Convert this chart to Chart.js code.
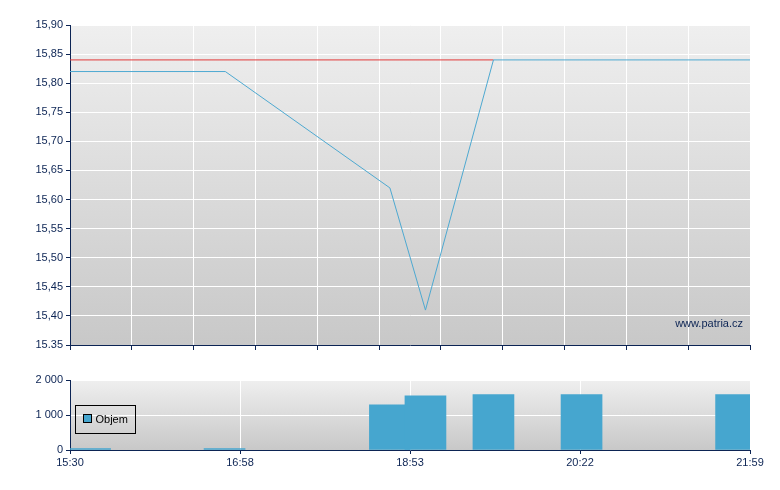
<!DOCTYPE html>
<html>
<head>
<meta charset="utf-8">
<script src="https://cdn.jsdelivr.net/npm/chart.js@4.4.1/dist/chart.umd.min.js"></script>
<style>
  body { margin: 0; background: #fff; }
  #wrap { position: relative; width: 780px; height: 490px; }
  canvas { position: absolute; left: 0; }
</style>
</head>
<body>
<div id="wrap">
  <canvas id="cena" width="780" height="360" style="top:0"></canvas>
  <canvas id="objem" width="780" height="130" style="top:360px"></canvas>
</div>
<script>
// popisky casove osy (pozice 0, 11, 22, 33, 44)
const casy = ['15:30', '16:58', '18:53', '20:22', '21:59'];

// kurz
const kurzX = [0, 10.05, 20.7, 23, 27.4, 44];
const kurzY = [15.82, 15.82, 15.62, 15.41, 15.84, 15.84];

// predchozi zaviraci cena (cervena cara, dal ji prekryva kurz)
const zavX = [0, 27.4];
const zavY = [15.84, 15.84];

// objem obchodu
const objemX = [1.3, 10, 20.7, 23, 27.4, 33.1, 43.1];
const objemY = [40, 40, 1290, 1545, 1580, 1580, 1580];

const kurzTicks = ['15.35', '15,40', '15,45', '15,50', '15,55', '15,60', '15,65', '15,70', '15,75', '15,80', '15,85', '15,90'];
const objemTicks = ['0', '1 000', '2 000'];

const NAVY = '#0c2454';
const FONT = { family: '"Liberation Sans", Arial, sans-serif', size: 11 };

const pozadi = {
  id: 'pozadi',
  beforeDraw(chart) {
    const { ctx, chartArea: a } = chart;
    const g = ctx.createLinearGradient(0, a.top, 0, a.bottom);
    g.addColorStop(0, '#efefef');
    g.addColorStop(1, '#c8c8c8');
    ctx.save();
    ctx.fillStyle = g;
    ctx.fillRect(a.left, a.top, a.right - a.left, a.bottom - a.top);
    ctx.restore();
  }
};

const vodoznak = {
  id: 'vodoznak',
  afterDraw(chart) {
    const { ctx, chartArea: a } = chart;
    ctx.save();
    ctx.font = '11px "Liberation Sans", Arial, sans-serif';
    ctx.fillStyle = NAVY;
    ctx.textAlign = 'right';
    ctx.textBaseline = 'middle';
    ctx.fillText('www.patria.cz', a.right - 7, a.bottom - 21);
    ctx.restore();
  }
};

const legenda = {
  id: 'legenda',
  afterDraw(chart) {
    const { ctx, chartArea: a } = chart;
    const ds = chart.data.datasets[0];
    const x = a.left + 5.5, y = a.top + 25.5;
    ctx.save();
    ctx.strokeStyle = '#000';
    ctx.lineWidth = 1;
    ctx.strokeRect(x, y, 60, 28);
    ctx.fillStyle = ds.backgroundColor;
    ctx.fillRect(x + 8, y + 9, 8, 8);
    ctx.strokeRect(x + 8, y + 9, 8, 8);
    ctx.font = '11px "Liberation Sans", Arial, sans-serif';
    ctx.fillStyle = '#000';
    ctx.textBaseline = 'middle';
    ctx.fillText(ds.label, x + 20, y + 14);
    ctx.restore();
  }
};

new Chart(document.getElementById('cena'), {
  type: 'line',
  data: {
    datasets: [{
      label: 'Kurz',
      data: kurzX.map((x, i) => ({ x: x, y: kurzY[i] })),
      borderColor: '#4ea9d1',
      borderWidth: 1,
      pointRadius: 0,
      tension: 0,
      order: 0
    }, {
      label: 'Zavírací',
      data: zavX.map((x, i) => ({ x: x, y: zavY[i] })),
      borderColor: '#e23a3a',
      borderWidth: 1,
      pointRadius: 0,
      order: 1
    }]
  },
  options: {
    responsive: false,
    animation: false,
    layout: { padding: { top: 25, right: 30, left: 0, bottom: 0 } },
    plugins: { legend: { display: false }, tooltip: { enabled: false } },
    scales: {
      x: {
        type: 'linear', min: 0, max: 44,
        afterFit(s) { s.height = 15; },
        ticks: { display: false, stepSize: 4 },
        grid: { color: '#ffffff', tickColor: NAVY, tickLength: 5 },
        border: { color: NAVY, width: 1 }
      },
      y: {
        min: 15.35, max: 15.90,
        afterFit(s) { s.width = 70; },
        ticks: {
          stepSize: 0.05, color: NAVY, font: FONT, padding: 3,
          callback: (v) => kurzTicks[Math.round((v - 15.35) / 0.05)]
        },
        grid: { color: '#ffffff', tickColor: NAVY, tickLength: 4 },
        border: { color: NAVY, width: 1 }
      }
    }
  },
  plugins: [pozadi, vodoznak]
});

new Chart(document.getElementById('objem'), {
  type: 'bar',
  data: {
    datasets: [{
      label: 'Objem',
      data: objemX.map((x, i) => ({ x: x, y: objemY[i] })),
      backgroundColor: '#46a6cf',
      barThickness: 41
    }]
  },
  options: {
    responsive: false,
    animation: false,
    layout: { padding: { top: 20, right: 30, left: 0, bottom: 0 } },
    plugins: { legend: { display: false }, tooltip: { enabled: false } },
    scales: {
      x: {
        type: 'linear', min: 0, max: 44, offset: false,
        afterFit(s) { s.height = 40; },
        ticks: {
          stepSize: 11, color: NAVY, font: FONT, padding: 2, maxRotation: 0,
          callback: (v) => casy[Math.round(v / 11)]
        },
        grid: { offset: false, color: '#ffffff', tickColor: NAVY, tickLength: 4 },
        border: { color: NAVY, width: 1 }
      },
      y: {
        min: 0, max: 2000,
        afterFit(s) { s.width = 70; },
        ticks: {
          stepSize: 1000, color: NAVY, font: FONT, padding: 3,
          callback: (v) => objemTicks[Math.round(v / 1000)]
        },
        grid: { color: '#ffffff', tickColor: NAVY, tickLength: 4 },
        border: { color: NAVY, width: 1 }
      }
    }
  },
  plugins: [pozadi, legenda]
});
</script>
</body>
</html>
